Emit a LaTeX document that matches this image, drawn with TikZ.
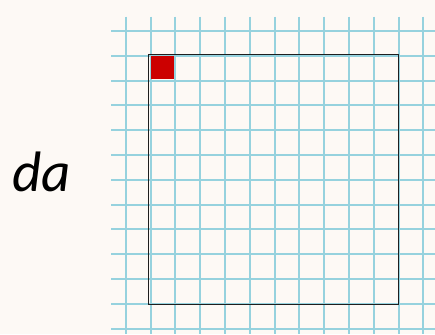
\documentclass[tikz,border=0pt]{standalone}
\usepackage{fontspec}
\newfontfamily\labelfont{Carlito}
\usetikzlibrary{positioning}
\definecolor{papercolor}{RGB}{253,249,245}
\definecolor{gridcolor}{RGB}{150,210,222}
\definecolor{cellcolor}{RGB}{204,0,0}
\definecolor{framecolor}{RGB}{30,30,30}
\tikzset{
  gridline/.style = {draw=gridcolor, line width=2pt},
  frame/.style    = {draw=framecolor, line width=1.1pt, inner sep=0pt,
                     minimum size=250pt, anchor=north west},
  cell/.style     = {fill=cellcolor, inner sep=0pt, minimum size=23pt,
                     anchor=north west},
  areatext/.style = {font=\labelfont\itshape\fontsize{57}{57}\selectfont,
                     inner sep=0pt},
}

\begin{document}
\begin{tikzpicture}[x=1pt, y=-1pt]
  % paper background
  \fill[papercolor] (0,0) rectangle (435,334);
  \useasboundingbox (0,0) rectangle (435,334);
  % grid
  \foreach \k in {0,...,12} {
    \draw[gridline] (125.7+24.8*\k,16.7) -- (125.7+24.8*\k,334);
    \draw[gridline] (111,31+24.8*\k) -- (435,31+24.8*\k);
  }
  % the square and its unit cell
  \node[frame] (square) at (148.3,54.3) {};
  \node[cell] (unit) at (151,56) {};
  % label
  \node[areatext] (da) at (42,172) {da};
\end{tikzpicture}
\end{document}
